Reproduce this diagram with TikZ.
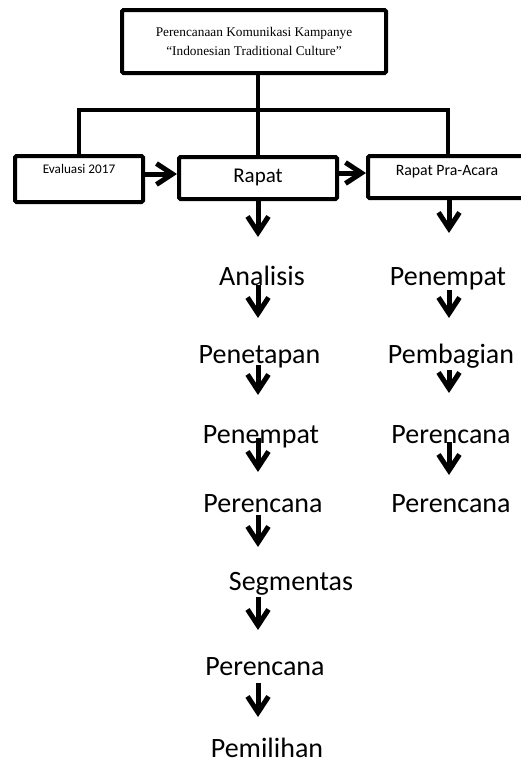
\documentclass[tikz,border=0pt]{standalone}
\usepackage{fontspec}
\setmainfont{Carlito}
\newfontfamily\timesf{Liberation Serif}
\usetikzlibrary{arrows.meta,calc}
\begin{document}
\begin{tikzpicture}[x=1pt,y=-1pt,
 box/.style={draw, line width=4pt, rounded corners=1.5pt, inner sep=0pt},
 conn/.style={line width=4pt},
 arr/.style={line width=5pt, -{Straight Barb[length=16pt,width=21pt,line join=miter]}},
 big/.style={inner sep=0pt, anchor=base, font=\fontsize{28}{30}\selectfont},
 small/.style={inner sep=0pt, anchor=base},
]
\useasboundingbox (0,0) rectangle (521,764);
\clip (0,0) rectangle (521,764);
% boxes
\node[box, minimum width=264pt, minimum height=63pt, align=center,
      font=\timesf\fontsize{13.3}{19}\selectfont] (top) at (254,41.5)
      {Perencanaan Komunikasi Kampanye\\“Indonesian Traditional Culture”};
\node[box, minimum width=128pt, minimum height=46pt] (eval) at (79,179) {};
\node[small, font=\fontsize{13.2}{15}\selectfont] (evalt) at (79,173) {Evaluasi 2017};
\node[box, minimum width=158pt, minimum height=42pt] (rapat) at (258,178) {};
\node[small, font=\fontsize{21}{24}\selectfont] (rapatt) at (258,182) {Rapat};
\node[box, minimum width=157pt, minimum height=42pt] (pra) at (446.5,177) {};
\node[small, font=\fontsize{15.8}{18}\selectfont] (prat) at (447,175) {Rapat Pra-Acara};
% tree connectors
\coordinate (bl) at (79,110);
\coordinate (br) at (448,110);
\draw[conn] (top.south -| rapat.north) -- (rapat.north);
\draw[conn] (eval.north) -- (bl) -- (br) -- (br |- pra.north);
% horizontal arrows
\draw[arr] (eval.east |- 0,174) -- (rapat.west |- 0,174);
\draw[arr] (rapat.east |- 0,173) -- (pra.west |- 0,173);
% left column texts
\node[big] (ana)  at (262,285) {Analisis};
\node[big] (pnt)  at (259.5,363) {Penetapan};
\node[big] (pmp)  at (261,443) {Penempat};
\node[big] (prc1) at (263,512) {Perencana};
\node[big] (seg)  at (291,590) {Segmentas};
\node[big] (prc2) at (265,675) {Perencana};
\node[big] (pml)  at (267,757) {Pemilihan};
% right column texts
\node[big] (rpmp)  at (448,285) {Penempat};
\node[big] (rpmb)  at (451,363) {Pembagian};
\node[big] (rprc1) at (451,443) {Perencana};
\node[big] (rprc2) at (451,512) {Perencana};
% arrow tips (free ends)
\coordinate (l1) at (258,237);
\coordinate (l2) at (258,318);
\coordinate (l3) at (258,395);
\coordinate (l4) at (258,472);
\coordinate (l5) at (258,547);
\coordinate (l6) at (258,630);
\coordinate (l7) at (258,717);
\coordinate (r1) at (449,233);
\coordinate (r2) at (449,318);
\coordinate (r3) at (449,393);
\coordinate (r4) at (449,475);
% left column arrows
\draw[arr] (rapat.south) -- (l1);
\draw[arr] ($(ana.base -| l2)+(0,0)$) -- (l2);
\draw[arr] ($(pnt.base -| l3)+(0,2)$) -- (l3);
\draw[arr] ($(pmp.base -| l4)+(0,-5)$) -- (l4);
\draw[arr] ($(prc1.base -| l5)+(0,3)$) -- (l5);
\draw[arr] ($(seg.base -| l6)+(0,7)$) -- (l6);
\draw[arr] ($(prc2.base -| l7)+(0,8)$) -- (l7);
% right column arrows
\draw[arr] (pra.south -| r1) -- (r1);
\draw[arr] ($(rpmp.base -| r2)+(0,5)$) -- (r2);
\draw[arr] ($(rpmb.base -| r3)+(0,7)$) -- (r3);
\draw[arr] ($(rprc1.base -| r4)+(0,-1)$) -- (r4);
\end{tikzpicture}
\end{document}
